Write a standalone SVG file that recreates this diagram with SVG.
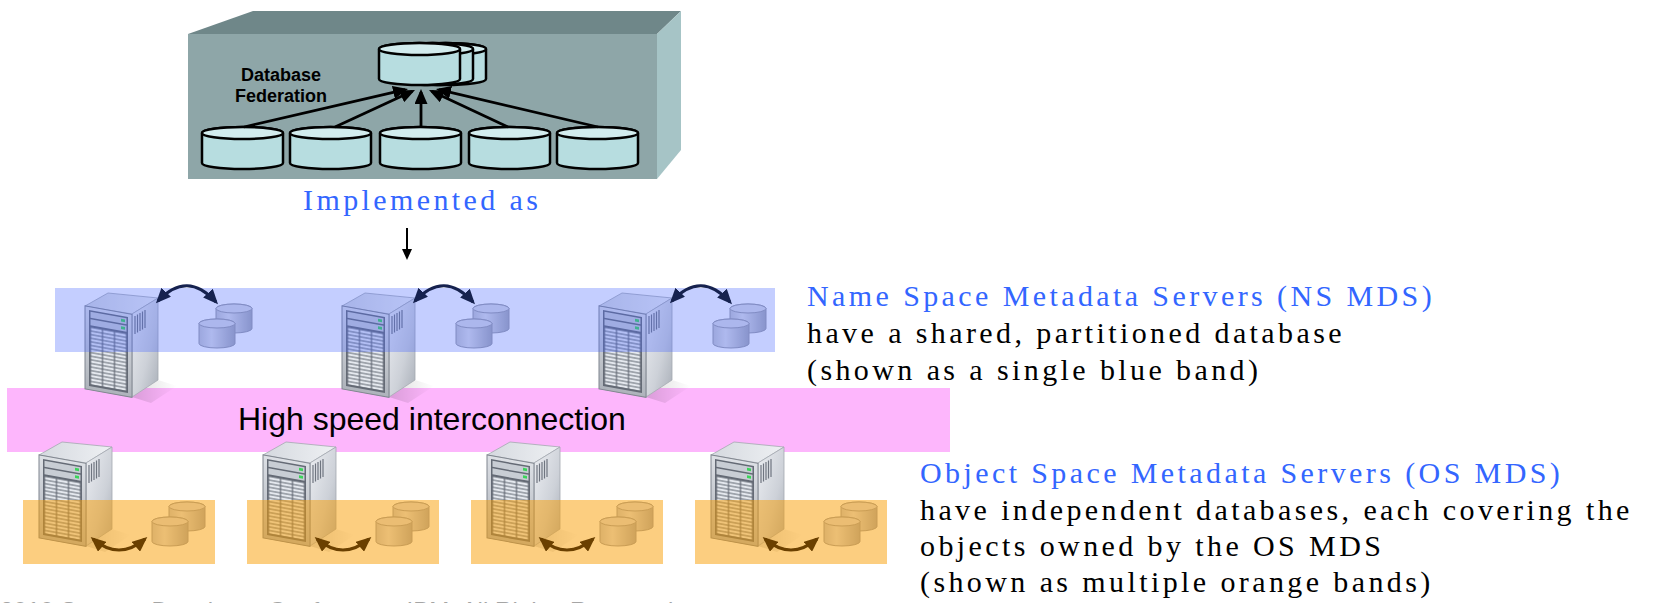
<svg xmlns="http://www.w3.org/2000/svg" width="1654" height="603" viewBox="0 0 1654 603">
  <style>
    .serif { font-family: "Liberation Serif", "Times New Roman", serif; font-size: 30px; letter-spacing: 3.4px; }
    .blue { fill: #3366ff; }
    .ink { fill: #000000; }
    .sans { font-family: "Liberation Sans", Arial, sans-serif; }
    .fed-body { fill: #b7dde0; stroke: #000000; stroke-width: 2.5; stroke-linejoin: round; }
    .fed-top { fill: #d2ecee; stroke: #000000; stroke-width: 2.5; }
    .fed-link { fill: none; stroke: #000000; stroke-width: 2.8; marker-end: url(#headBlack); }
    .ns-link { fill: none; stroke: #16224f; stroke-width: 3; marker-start: url(#headNavy); marker-end: url(#headNavy); }
    .os-link { fill: none; stroke: #6b4000; stroke-width: 3; marker-start: url(#headBrown); marker-end: url(#headBrown); }
    .down-link { fill: none; stroke: #000000; stroke-width: 2; marker-end: url(#headSmall); }
    .ns-band { fill: #4b69ff; fill-opacity: 0.33; }
    .os-band { fill: #f99d01; fill-opacity: 0.5; }
    .db-body { fill: url(#dbBody); stroke: #9a9ca6; stroke-width: 1; }
    .db-top { fill: #dcdde4; stroke: #9a9ca6; stroke-width: 1; }
  </style>
  <defs>
    <marker id="headBlack" markerUnits="userSpaceOnUse" markerWidth="15" markerHeight="13" viewBox="0 0 15 13" refX="12" refY="6.5" orient="auto">
      <path d="M0,0 L15,6.5 L0,13 Z" fill="#000000"/>
    </marker>
    <marker id="headSmall" markerUnits="userSpaceOnUse" markerWidth="11" markerHeight="10" viewBox="0 0 11 10" refX="8" refY="5" orient="auto">
      <path d="M0,0 L11,5 L0,10 Z" fill="#000000"/>
    </marker>
    <marker id="headNavy" markerUnits="userSpaceOnUse" markerWidth="15" markerHeight="13" viewBox="0 0 15 13" refX="12" refY="6.5" orient="auto-start-reverse">
      <path d="M0,0 L15,6.5 L0,13 Z" fill="#16224f"/>
    </marker>
    <marker id="headBrown" markerUnits="userSpaceOnUse" markerWidth="15" markerHeight="13" viewBox="0 0 15 13" refX="12" refY="6.5" orient="auto-start-reverse">
      <path d="M0,0 L15,6.5 L0,13 Z" fill="#6b4000"/>
    </marker>

    <linearGradient id="srvFront" x1="0" y1="0" x2="0" y2="1">
      <stop offset="0" stop-color="#dde0e5"/>
      <stop offset="1" stop-color="#aeb3bb"/>
    </linearGradient>
    <linearGradient id="srvSide" x1="0" y1="0" x2="1" y2="1">
      <stop offset="0" stop-color="#eceef2"/>
      <stop offset="0.6" stop-color="#cdd1d8"/>
      <stop offset="1" stop-color="#a9afb8"/>
    </linearGradient>
    <linearGradient id="srvTop" x1="0" y1="0" x2="1" y2="0">
      <stop offset="0" stop-color="#d5d9df"/>
      <stop offset="1" stop-color="#eef0f3"/>
    </linearGradient>
    <linearGradient id="srvShadow" x1="0" y1="0" x2="1" y2="0">
      <stop offset="0" stop-color="#000000" stop-opacity="0.14"/>
      <stop offset="1" stop-color="#000000" stop-opacity="0"/>
    </linearGradient>
    <linearGradient id="dbBody" x1="0" y1="0" x2="1" y2="0">
      <stop offset="0" stop-color="#c3c5ce"/>
      <stop offset="0.35" stop-color="#dfe0e6"/>
      <stop offset="1" stop-color="#a6a9b4"/>
    </linearGradient>
    <pattern id="bays" patternUnits="userSpaceOnUse" x="7.5" y="33" width="12" height="3.6">
      <rect x="0.6" y="0.5" width="10.8" height="2.6" fill="#e4e8ee"/>
    </pattern>

    <!-- tower server, local box 0..94 x 0..110 -->
    <g id="server">
      <path d="M49,104 L75,87 L94,93 L68,110 Z" fill="url(#srvShadow)"/>
      <path d="M2,13 L25,0 L75,5 L49,21 Z" fill="url(#srvTop)" stroke="#a3a8b0" stroke-width="0.8"/>
      <path d="M49,21 L75,5 L75,87 L49,104 Z" fill="url(#srvSide)" stroke="#a3a8b0" stroke-width="0.8"/>
      <path d="M52,23 v18 M54.5,21.5 v18 M57,20 v18 M59.5,18.5 v18 M62,17 v18" stroke="#6f7580" stroke-width="1.2"/>
      <g transform="matrix(1,0.18,0,1,0,0)">
        <rect x="2" y="12.6" width="47" height="83" fill="url(#srvFront)" stroke="#80868f" stroke-width="1"/>
        <rect x="6" y="16" width="39" height="76" fill="#646a75"/>
        <rect x="7.5" y="17.5" width="36" height="6" fill="#c8cdd4"/>
        <rect x="7.5" y="25" width="36" height="6" fill="#c8cdd4"/>
        <rect x="38" y="19" width="4" height="2.6" fill="#3bd45a"/>
        <rect x="38" y="26.5" width="4" height="2.6" fill="#3bd45a"/>
        <rect x="7.5" y="33" width="36" height="57" fill="url(#bays)"/>
      </g>
    </g>

    <!-- pair of small database cylinders -->
    <g id="dbpair">
      <path class="db-body" d="M17,4.5 V24.5 A18,4.5 0 0 0 53,24.5 V4.5 A18,4.5 0 0 0 17,4.5 Z"/>
      <ellipse class="db-top" cx="35" cy="4.5" rx="18" ry="4.5"/>
      <path class="db-body" d="M0,19.5 V39.5 A18,4.5 0 0 0 36,39.5 V19.5 A18,4.5 0 0 0 0,19.5 Z"/>
      <ellipse class="db-top" cx="18" cy="19.5" rx="18" ry="4.5"/>
    </g>

    <!-- federation member cylinder -->
    <g id="fedCyl">
      <path class="fed-body" d="M0,6 V36 A40.5,6 0 0 0 81,36 V6 A40.5,6 0 0 0 0,6 Z"/>
      <ellipse class="fed-top" cx="40.5" cy="6" rx="40.5" ry="6"/>
    </g>
  </defs>

  <rect width="1654" height="603" fill="#ffffff"/>

  <!-- database federation block -->
  <g id="db-federation">
    <path d="M188,34 L253,11 L681,11 L657,34 Z" fill="#6f8789"/>
    <path d="M657,34 L681,11 L681,150 L657,179 Z" fill="#a6c4c6"/>
    <rect x="188" y="34" width="469" height="145" fill="#8ea6a8"/>
    <use href="#fedCyl" x="405" y="43"/>
    <use href="#fedCyl" x="392" y="43"/>
    <use href="#fedCyl" x="379" y="43"/>
    <use href="#fedCyl" x="202" y="127"/>
    <use href="#fedCyl" x="290" y="127"/>
    <use href="#fedCyl" x="380" y="127"/>
    <use href="#fedCyl" x="469" y="127"/>
    <use href="#fedCyl" x="557" y="127"/>
    <text class="sans" x="281" y="81" font-size="18" font-weight="bold" text-anchor="middle">Database</text>
    <text class="sans" x="281" y="102" font-size="18" font-weight="bold" text-anchor="middle">Federation</text>
  </g>

  <g id="implemented-label">
    <text class="serif blue" x="303" y="210">Implemented as</text>
  </g>

  <!-- interconnect -->
  <g id="interconnect">
    <rect x="7" y="388" width="943" height="64" fill="#fdb6fc"/>
    <text class="sans" x="238" y="430" font-size="32">High speed interconnection</text>
  </g>

  <!-- name space metadata servers -->
  <g id="ns-server-1">
    <use href="#server" x="83" y="293"/>
    <use href="#dbpair" x="199" y="304"/>
  </g>
  <g id="ns-server-2">
    <use href="#server" x="340" y="293"/>
    <use href="#dbpair" x="456" y="304"/>
  </g>
  <g id="ns-server-3">
    <use href="#server" x="597" y="293"/>
    <use href="#dbpair" x="713" y="304"/>
  </g>
  <g id="ns-band">
    <rect class="ns-band" x="55" y="288" width="720" height="64"/>
  </g>

  <!-- object space metadata servers -->
  <g id="os-server-1">
    <use href="#server" x="37" y="442"/>
    <use href="#dbpair" x="152" y="502"/>
    <rect class="os-band" x="23" y="500" width="192" height="64"/>
  </g>
  <g id="os-server-2">
    <use href="#server" x="261" y="442"/>
    <use href="#dbpair" x="376" y="502"/>
    <rect class="os-band" x="247" y="500" width="192" height="64"/>
  </g>
  <g id="os-server-3">
    <use href="#server" x="485" y="442"/>
    <use href="#dbpair" x="600" y="502"/>
    <rect class="os-band" x="471" y="500" width="192" height="64"/>
  </g>
  <g id="os-server-4">
    <use href="#server" x="709" y="442"/>
    <use href="#dbpair" x="824" y="502"/>
    <rect class="os-band" x="695" y="500" width="192" height="64"/>
  </g>

  <!-- connectors -->
  <g id="connectors">
    <path class="fed-link" d="M244,127 L405.1,89.7"/>
    <path class="fed-link" d="M335,127 L412.3,91.3"/>
    <path class="fed-link" d="M421,127 L421,92"/>
    <path class="fed-link" d="M508,127 L431.7,91.3"/>
    <path class="fed-link" d="M598,127 L438.9,89.7"/>
    <path class="down-link" d="M407,228 V257"/>
    <path class="ns-link" d="M158,301 Q187,270 216,302"/>
    <path class="ns-link" d="M415,301 Q444,270 473,302"/>
    <path class="ns-link" d="M672,301 Q701,270 730,302"/>
    <path class="os-link" d="M93,539 Q119,561 145,539"/>
    <path class="os-link" d="M317,539 Q343,561 369,539"/>
    <path class="os-link" d="M541,539 Q567,561 593,539"/>
    <path class="os-link" d="M765,539 Q791,561 817,539"/>
  </g>

  <!-- descriptions -->
  <g id="ns-description">
    <text class="serif blue" x="807" y="306">Name Space Metadata Servers (NS MDS)</text>
    <text class="serif ink" x="807" y="343">have a shared, partitioned database</text>
    <text class="serif ink" x="807" y="380">(shown as a single blue band)</text>
  </g>
  <g id="os-description">
    <text class="serif blue" x="920" y="483">Object Space Metadata Servers (OS MDS)</text>
    <text class="serif ink" x="920" y="520">have independent databases, each covering the</text>
    <text class="serif ink" x="920" y="556">objects owned by the OS MDS</text>
    <text class="serif ink" x="920" y="592">(shown as multiple orange bands)</text>
  </g>

  <g id="footer">
    <text class="sans" x="0" y="619" font-size="24" fill="#a5a5a5" textLength="680" lengthAdjust="spacing">2010 Storage Developer Conference. IBM. All Rights Reserved.</text>
  </g>
</svg>
